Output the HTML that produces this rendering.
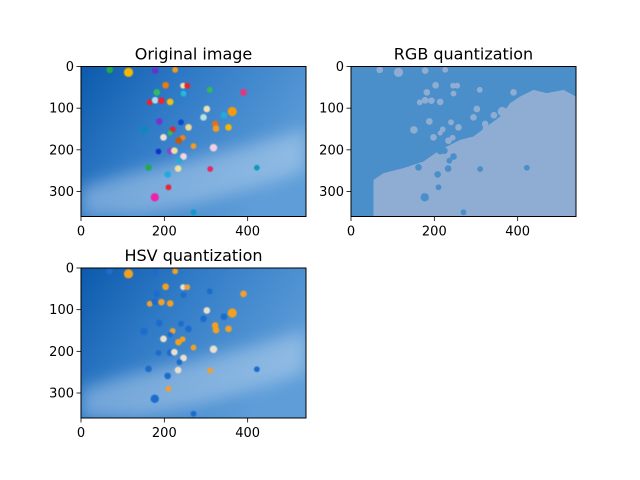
<!DOCTYPE html>
<html><head><meta charset="utf-8">
<style>
html,body{margin:0;padding:0;background:#fff;}
svg{display:block;font-family:"DejaVu Sans","Liberation Sans",sans-serif;}
</style></head>
<body>
<svg id="fig" width="640" height="480" viewBox="0 0 640 480" xmlns="http://www.w3.org/2000/svg">
<defs>
<linearGradient id="sky" x1="0" y1="0" x2="1" y2="0.5">
<stop offset="0" stop-color="#0c5aac"/>
<stop offset="0.4" stop-color="#2f7ac6"/>
<stop offset="1" stop-color="#5e9dd8"/>
</linearGradient>
<filter id="blur" x="-20%" y="-20%" width="140%" height="140%"><feGaussianBlur stdDeviation="8"/></filter>
<filter id="bblur"><feGaussianBlur stdDeviation="0.4"/></filter>
</defs>
</svg>
<script>
// balloon data in image coordinates (image is 540 x 360)
const balloonX=[69,114,178,226,203,245,255,309,390,182,246,165,178,193,214,302,294,343,363,188,240,258,322,324,354,151,220,214,198,244,234,270,186,214,224,318,246,236,162,233,310,422,208,210,177,270];
const balloonY=[8,14,10,8,45,46,46,56,62,62,65,86,81,82,85,102,122,117,108,132,134,146,138,149,146,152,151,160,170,171,178,191,204,203,202,195,216,226,242,245,246,243,259,290,314,350];
const balloonColor=["#22aa44","#f5b800","#6633cc","#f39a20","#f07a10","#f0e0b0","#ee2020","#33bb55","#ee3377","#33bb66","#22bbdd","#ee2222","#aaddee","#ee2233","#f5c010","#f0e0b0","#bbe0e0","#22aadd","#f59a10","#7733cc","#1144cc","#f0d890","#e07020","#f59a20","#f5b800","#1188bb","#ee2020","#33bb44","#f0e0d0","#f08020","#c05a10","#f59a20","#1133cc","#8844cc","#f0e0a0","#f0d0e0","#f0d8e0","#22aadd","#22aa55","#f0e0a0","#ee2266","#1199bb","#22aadd","#ee2233","#ee22aa","#1199cc"];
const balloonR=[8,11,8,7,8,7,7,7,8,8,7,7,8,8,8,8,8,8,11,8,7,8,8,8,8,9,7,6,8,7,8,7,7,8,8,9,8,7,8,8,7,7,8,7,10,7];
const xTicks=[0,200,400];
const yTicks=[0,100,200,300];
const cloudX=[54,54,78,126,174,214,262,294,326,358,382,406,438,470,510,540,540];
const cloudY=[360,272,256,244,228,200,176,168,144,120,88,72,56,64,56,72,360];
const wispX=[0,120,260,400,540,540,420,280,140,0];
const wispY=[290,255,225,190,150,250,290,330,360,360];

const NS="http://www.w3.org/2000/svg";
const svg=document.getElementById('fig');
const IMW=540, IMH=360, AW=225, AH=150;
function el(tag,attrs,parent){const e=document.createElementNS(NS,tag);for(const k in attrs)e.setAttribute(k,attrs[k]);(parent||svg).appendChild(e);return e;}
function hsvMap(c){
  const r=parseInt(c.slice(1,3),16),g=parseInt(c.slice(3,5),16),b=parseInt(c.slice(5,7),16);
  if(r>200&&g>190&&b>150)return "#ece0cc";
  if(r>180&&g>80&&b<120)return "#f2a020";
  if(r>200&&g<80&&b<120)return "#f0a030";
  return "#1a6ccc";
}
function panel(name,ox,oy,title,kind){
  const g=el('g',{transform:`translate(${ox},${oy})`});
  
  
  const clipId='c'+name;
  const cp=el('clipPath',{id:clipId},g);el('rect',{x:0,y:0,width:AW,height:AH},cp);
  const img=el('g',{'clip-path':`url(#${clipId})`},g);
  
  
  const sx=AW/IMW, sy=AH/IMH;
  if(kind==='rgb'){
    const pts=cloudX.map((x,i)=>`${x*sx},${cloudY[i]*sy}`).join(' ');
    el('rect',{x:0,y:0,width:AW,height:AH,fill:'#4a8fca'},img);
    el('polygon',{points:pts,fill:'#8fadd2'},img);
    for(let i=0;i<balloonX.length;i++){
      const inCloud=balloonY[i]>200;
      const b=el('circle',{cx:balloonX[i]*sx,cy:balloonY[i]*sy,r:balloonR[i]*sx,fill:inCloud?'#4a8fca':'#8fadd2'},img);
      
      
    }
  }else{
    const pts=wispX.map((x,i)=>`${x*sx},${wispY[i]*sy}`).join(' ');
    el('rect',{x:0,y:0,width:AW,height:AH,fill:'url(#sky)'},img);
    el('polygon',{points:pts,fill:'#d8e6f5',opacity:0.4,filter:'url(#blur)'},img);
    for(let i=0;i<balloonX.length;i++){
      const col=kind==='hsv'?hsvMap(balloonColor[i]):balloonColor[i];
      const b=el('circle',{cx:balloonX[i]*sx,cy:balloonY[i]*sy,r:balloonR[i]*sx,fill:col,filter:'url(#bblur)'},img);
      
      
    }
  }
  el('rect',{x:0,y:0,width:AW,height:AH,fill:'none',stroke:'#000','stroke-width':1},g);
  xTicks.forEach(v=>{const x=v*sx;el('line',{x1:x,y1:AH,x2:x,y2:AH+4.5,stroke:'#000','stroke-width':0.8},g);
    const t=el('text',{x:x,y:AH+19,'text-anchor':'middle','font-size':13,fill:'#000'},g);t.textContent=v;
    });
  yTicks.forEach(v=>{const y=v*sy;el('line',{x1:0,y1:y,x2:-4.5,y2:y,stroke:'#000','stroke-width':0.8},g);
    const t=el('text',{x:-7,y:y+4.5,'text-anchor':'end','font-size':13,fill:'#000'},g);t.textContent=v;
    });
  const tt=el('text',{x:AW/2,y:-7,'text-anchor':'middle','font-size':16,fill:'#000'},g);tt.textContent=title;
  
}
panel('original-panel',81,66.5,'Original image','orig');
panel('rgb-panel',351,66.5,'RGB quantization','rgb');
panel('hsv-panel',81,268,'HSV quantization','hsv');
</script>
</body></html>
